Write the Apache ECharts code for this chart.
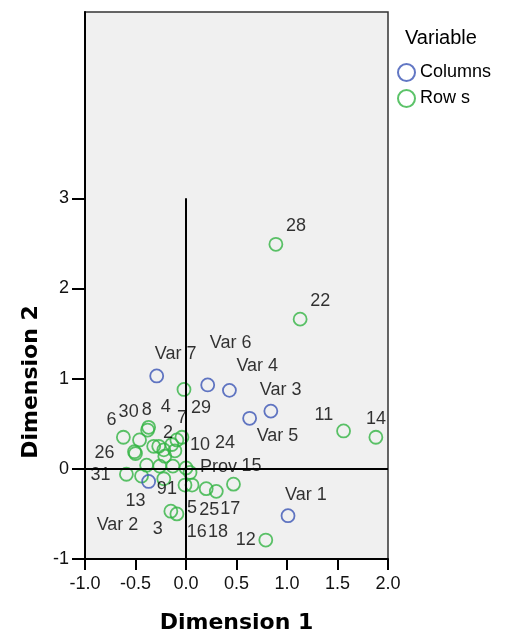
<!DOCTYPE html>
<html>
<head>
<meta charset="utf-8">
<script src="https://cdn.jsdelivr.net/npm/echarts@6/dist/echarts.min.js"></script>
<style>
  html, body { margin: 0; padding: 0; background: #fff; }
  #chart { width: 506px; height: 639px; }
</style>
</head>
<body>
<div id="chart"></div>
<script>
// column points (blue)
const colNames = ['Var 1', 'Var 2', 'Var 3', 'Var 4', 'Var 5', 'Var 6', 'Var 7'];
const colX = [1.01, -0.37, 0.84, 0.43, 0.63, 0.215, -0.29];
const colY = [-0.52, -0.14, 0.64, 0.87, 0.56, 0.93, 1.03];

// row points (green), '' = label hidden by overlap
const rowLabels = ['29', '8', '30', '6', '26', '7', '2', '', '', '4', '10', '', '', '', '', '', '3', '',
  'Prov', '24', '31', '13', '9', '1', '5', '25', '17', '15', '16', '18', '12', '28', '22', '11', '14'];
const rowX = [-0.02, -0.37, -0.38, -0.62, -0.46, -0.04, -0.09, -0.32, -0.27, -0.14, -0.11, -0.51, -0.50, -0.22, -0.21, -0.39, -0.26, -0.13,
  0.0, 0.04, -0.59, -0.44, -0.22, -0.01, 0.06, 0.20, 0.30, 0.47, -0.15, -0.09, 0.79, 0.89, 1.13, 1.56, 1.88];
const rowY = [0.88, 0.46, 0.43, 0.35, 0.32, 0.35, 0.32, 0.25, 0.25, 0.27, 0.20, 0.19, 0.17, 0.21, 0.14, 0.04, 0.03, 0.03,
  0.01, -0.04, -0.06, -0.08, -0.11, -0.18, -0.18, -0.22, -0.25, -0.17, -0.47, -0.50, -0.79, 2.49, 1.66, 0.42, 0.35];

const xTicks = [-1, -0.5, 0, 0.5, 1, 1.5, 2];
const yTicks = [-1, 0, 1, 2, 3];

// label nudges in px (text start, text middle) from the point centre
const labelNudge = {
  'Var 1': [-3, -21], 'Var 2': [-52, 44], 'Var 3': [-11, -21], 'Var 4': [7, -24],
  'Var 5': [7, 18], 'Var 6': [2, -42], 'Var 7': [-2, -22],
  '29': [7, 19], '8': [-7, -17], '30': [-29, -18], '6': [-17, -17], '26': [-45, 13],
  '7': [-5, -19], '2': [-14, -7], '4': [-11, -37], '10': [15, -6], '3': [-7, 63],
  'Prov': [14, -1], '24': [25, -29], '31': [-36, 1], '13': [-16, 25], '9': [-7, 10],
  '1': [-18, 4], '5': [-5, 23], '25': [-7, 21], '17': [4, 18], '15': [8, -18],
  '16': [16, 21], '18': [31, 18], '12': [-30, 0], '28': [10, -18], '22': [10, -18],
  '11': [-29, -16], '14': [-10, -18]
};

const BLUE = '#3b55b5';
const GREEN = '#33b444';
const FONT = 'Liberation Sans';
const BOLD_FONT = 'DejaVu Sans';

function buildPoints(xs, ys, names) {
  return xs.map((x, i) => {
    const name = names[i];
    const item = { value: [x, ys[i]], name: name };
    if (name) {
      item.label = { show: true, formatter: name, offset: labelNudge[name] || [8, -18] };
    } else {
      item.label = { show: false };
    }
    return item;
  });
}

const pointLabel = {
  position: 'inside',
  align: 'left',
  verticalAlign: 'middle',
  color: '#000',
  fontSize: 18,
  fontFamily: FONT
};

const chart = echarts.init(document.getElementById('chart'));
chart.setOption({
  animation: false,
  backgroundColor: '#fff',
  title: {
    text: 'Variable',
    left: 405, top: 28,
    padding: 0,
    textStyle: { fontSize: 20, fontWeight: 'normal', color: '#000', fontFamily: FONT }
  },
  legend: {
    orient: 'vertical',
    left: 397, top: 63,
    padding: 0,
    itemWidth: 17, itemHeight: 17, itemGap: 7,
    icon: 'circle',
    data: ['Columns', 'Row s'],
    textStyle: { fontSize: 18, color: '#000', fontFamily: FONT }
  },
  grid: {
    left: 85, right: 118, top: 12, bottom: 78,
    show: true,
    backgroundColor: '#f0f0f0',
    borderColor: '#333',
    borderWidth: 1.5
  },
  xAxis: {
    type: 'value',
    min: -1, max: 2, interval: 0.5,
    name: 'Dimension 1',
    nameLocation: 'middle',
    nameGap: 53,
    nameTextStyle: { fontSize: 22, fontWeight: 'bold', color: '#000', fontFamily: BOLD_FONT },
    axisLine: { show: true, onZero: false, lineStyle: { color: '#000', width: 2 } },
    axisTick: { show: true, length: 11, customValues: xTicks, lineStyle: { color: '#000', width: 2 } },
    axisLabel: {
      customValues: xTicks, margin: 16, fontSize: 18, color: '#111', fontFamily: FONT,
      formatter: v => v.toFixed(1)
    },
    splitLine: { show: false }
  },
  yAxis: {
    type: 'value',
    min: -1, max: 5.066, interval: 1,
    axisLine: { show: true, onZero: false, lineStyle: { color: '#000', width: 2 } },
    axisTick: { show: true, length: 13, customValues: yTicks, lineStyle: { color: '#000', width: 2 } },
    axisLabel: { customValues: yTicks, margin: 16, fontSize: 18, color: '#111', fontFamily: FONT },
    splitLine: { show: false }
  },
  graphic: [{
    type: 'text',
    x: 31, y: 382,
    rotation: Math.PI / 2,
    style: {
      text: 'Dimension 2',
      font: 'bold 22px "' + BOLD_FONT + '"',
      fill: '#000',
      align: 'center',
      verticalAlign: 'middle'
    }
  }],
  series: [{
    name: 'Row s',
    type: 'scatter',
    symbol: 'circle',
    symbolSize: 13,
    itemStyle: { color: 'rgba(0,0,0,0)', borderColor: GREEN, borderWidth: 1.8 },
    label: pointLabel,
    emphasis: { disabled: true },
    data: buildPoints(rowX, rowY, rowLabels),
    markLine: {
      silent: true,
      symbol: 'none',
      label: { show: false },
      lineStyle: { color: '#000', width: 2, type: 'solid' },
      data: [
        [{ coord: [0, -1] }, { coord: [0, 3] }],
        { yAxis: 0 }
      ]
    }
  }, {
    name: 'Columns',
    type: 'scatter',
    symbol: 'circle',
    symbolSize: 13,
    itemStyle: { color: 'rgba(0,0,0,0)', borderColor: BLUE, borderWidth: 1.8 },
    label: pointLabel,
    emphasis: { disabled: true },
    data: buildPoints(colX, colY, colNames)
  }]
});
</script>
</body>
</html>
